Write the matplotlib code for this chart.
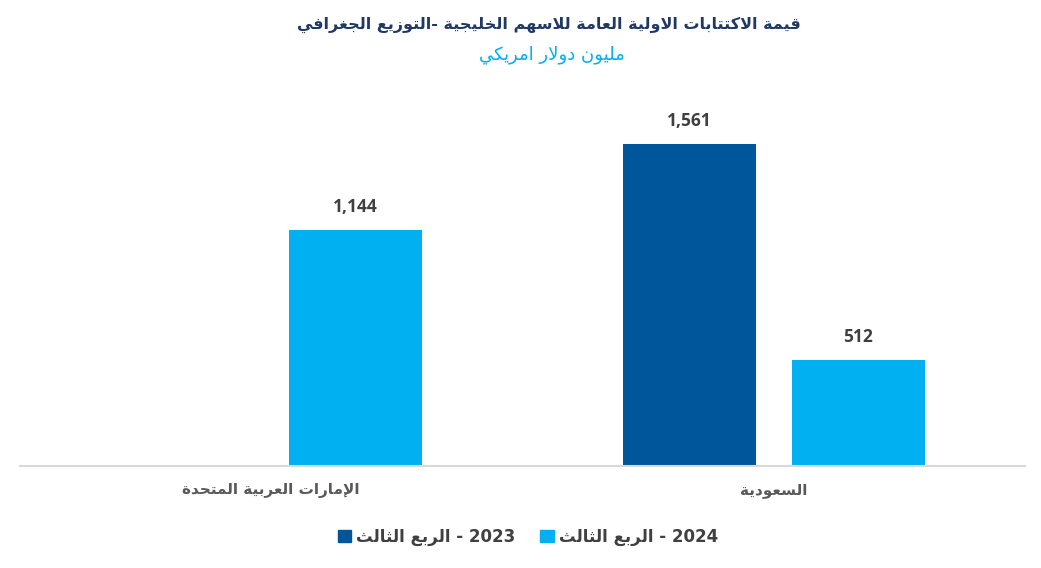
import numpy as np
import matplotlib
matplotlib.use("Agg")
import matplotlib.pyplot as plt
from matplotlib.patches import Patch

# data
categories = ["الإمارات العربية المتحدة", "السعودية"]
series_names = ["الربع الثالث - 2023", "الربع الثالث - 2024"]
q3_2023 = [0, 1561]
q3_2024 = [1144, 512]

title = "قيمة الاكتتابات الاولية العامة للاسهم الخليجية -التوزيع الجغرافي"
subtitle = "مليون دولار امريكي"

# arabic shaping by hand (no reshaper available): iso, fin, ini, med
FORMS = {
    'ء': (0xFE80,),
    'آ': (0xFE81, 0xFE82), 'أ': (0xFE83, 0xFE84), 'ؤ': (0xFE85, 0xFE86),
    'إ': (0xFE87, 0xFE88), 'ئ': (0xFE89, 0xFE8A, 0xFE8B, 0xFE8C),
    'ا': (0xFE8D, 0xFE8E), 'ب': (0xFE8F, 0xFE90, 0xFE91, 0xFE92),
    'ة': (0xFE93, 0xFE94), 'ت': (0xFE95, 0xFE96, 0xFE97, 0xFE98),
    'ث': (0xFE99, 0xFE9A, 0xFE9B, 0xFE9C), 'ج': (0xFE9D, 0xFE9E, 0xFE9F, 0xFEA0),
    'ح': (0xFEA1, 0xFEA2, 0xFEA3, 0xFEA4), 'خ': (0xFEA5, 0xFEA6, 0xFEA7, 0xFEA8),
    'د': (0xFEA9, 0xFEAA), 'ذ': (0xFEAB, 0xFEAC), 'ر': (0xFEAD, 0xFEAE),
    'ز': (0xFEAF, 0xFEB0), 'س': (0xFEB1, 0xFEB2, 0xFEB3, 0xFEB4),
    'ش': (0xFEB5, 0xFEB6, 0xFEB7, 0xFEB8), 'ص': (0xFEB9, 0xFEBA, 0xFEBB, 0xFEBC),
    'ض': (0xFEBD, 0xFEBE, 0xFEBF, 0xFEC0), 'ط': (0xFEC1, 0xFEC2, 0xFEC3, 0xFEC4),
    'ظ': (0xFEC5, 0xFEC6, 0xFEC7, 0xFEC8), 'ع': (0xFEC9, 0xFECA, 0xFECB, 0xFECC),
    'غ': (0xFECD, 0xFECE, 0xFECF, 0xFED0), 'ف': (0xFED1, 0xFED2, 0xFED3, 0xFED4),
    'ق': (0xFED5, 0xFED6, 0xFED7, 0xFED8), 'ك': (0xFED9, 0xFEDA, 0xFEDB, 0xFEDC),
    'ل': (0xFEDD, 0xFEDE, 0xFEDF, 0xFEE0), 'م': (0xFEE1, 0xFEE2, 0xFEE3, 0xFEE4),
    'ن': (0xFEE5, 0xFEE6, 0xFEE7, 0xFEE8), 'ه': (0xFEE9, 0xFEEA, 0xFEEB, 0xFEEC),
    'و': (0xFEED, 0xFEEE), 'ى': (0xFEEF, 0xFEF0),
    'ي': (0xFEF1, 0xFEF2, 0xFEF3, 0xFEF4),
}
LAM_ALEF = {'آ': (0xFEF5, 0xFEF6), 'أ': (0xFEF7, 0xFEF8),
            'إ': (0xFEF9, 0xFEFA), 'ا': (0xFEFB, 0xFEFC)}


def shape(s):
    # merge lam + alef first
    units = []
    i = 0
    while i < len(s):
        c = s[i]
        if c == 'ل' and i + 1 < len(s) and s[i + 1] in LAM_ALEF:
            units.append(('LA', LAM_ALEF[s[i + 1]]))
            i += 2
        else:
            units.append((c, FORMS.get(c)))
            i += 1
    out = []
    for k, (c, f) in enumerate(units):
        if f is None:
            out.append(c)
            continue
        prev = units[k - 1][1] if k > 0 else None
        nxt = units[k + 1][1] if k + 1 < len(units) else None
        jp = prev is not None and len(prev) == 4 and len(f) > 1
        jn = len(f) == 4 and nxt is not None and len(nxt) > 1
        if len(f) == 1:
            g = f[0]
        elif jp and jn:
            g = f[3]
        elif jn:
            g = f[2]
        elif jp:
            g = f[1]
        else:
            g = f[0]
        out.append(chr(g))
    return ''.join(out)


def vis(s):
    # arabic part is reversed, trailing latin/digits kept as is
    if ' - ' in s:
        a, b = s.split(' - ')
        return shape(a)[::-1] + ' - ' + b
    return shape(s)[::-1]


dark = '#00569A'
light = '#00B0F0'

fig = plt.figure(figsize=(10.41, 5.68), dpi=100)
ax = fig.add_axes([20 / 1041, 1 - 466 / 568, 1005 / 1041, 371.3 / 568])

x = np.arange(len(categories))
w = 0.265
off = 0.168
b1 = ax.bar(x - off, q3_2023, w, color=dark)
b2 = ax.bar(x + off, q3_2024, w, color=light)

for bars, vals in [(b1, q3_2023), (b2, q3_2024)]:
    for r, v in zip(bars, vals):
        if v == 0:
            continue
        ax.annotate(f"{v:,.0f}", (r.get_x() + r.get_width() / 2, v),
                    xytext=(0, 10), textcoords='offset points', ha='center',
                    va='bottom', fontsize=12.5, fontweight='bold', color='#404040',
                    family='Open Sans')

ax.set_xlim(-0.5, 1.5)
ax.set_ylim(0, 1800)
ax.set_yticks([])
ax.set_xticks(x)
ax.set_xticklabels([vis(c) for c in categories], fontsize=11, fontweight='bold',
                   color='#595959')
ax.tick_params(axis='x', length=0, pad=12)
for s in ['top', 'right', 'left']:
    ax.spines[s].set_visible(False)
ax.spines['bottom'].set_color('#D9D9D9')
ax.spines['bottom'].set_linewidth(1.5)

fig.text(0.527, 0.956, vis(title), ha='center', va='center', fontsize=11.5,
         fontweight='bold', color='#203864')
fig.text(0.53, 0.903, vis(subtitle), ha='center', va='center', fontsize=13,
         color=light)

handles = [Patch(color=dark), Patch(color=light)]
fig.legend(handles, [vis(n) for n in series_names], loc='center',
           bbox_to_anchor=(0.507, 0.055), ncol=2, frameon=False,
           prop={'size': 12, 'weight': 'bold'}, labelcolor='#404040',
           handlelength=0.8, handleheight=0.8, handletextpad=0.3,
           columnspacing=1.5)

fig.savefig('out.png', dpi=100)
